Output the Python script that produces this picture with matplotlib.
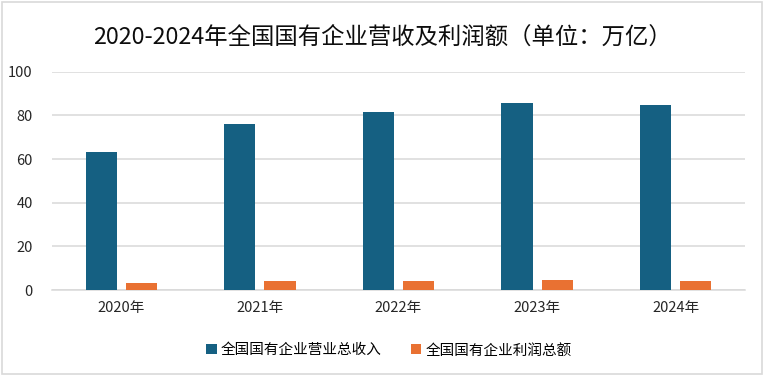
import matplotlib
matplotlib.use("Agg")
import matplotlib.pyplot as plt
import numpy as np
from matplotlib.patches import Rectangle

plt.rcParams['font.family'] = ['Noto Sans CJK SC', 'DejaVu Sans']

years = ["2020年", "2021年", "2022年", "2023年", "2024年"]
revenue = [63.3, 76.0, 81.5, 85.5, 84.7]
profit = [3.4, 4.3, 4.3, 4.6, 4.2]
series_names = ["全国国有企业营业总收入", "全国国有企业利润总额"]
title = "2020-2024年全国国有企业营收及利润额（单位：万亿）"

fig = plt.figure(figsize=(7.66, 3.76), dpi=100)
fig.patches.append(Rectangle((0.003, 0.005), 0.992, 0.99, transform=fig.transFigure,
                             fill=False, edgecolor="#d9d9d9", linewidth=1.2))
ax = fig.add_axes([0.068, 0.2287, 0.9046, 0.5803])

x = np.arange(len(years))
w = 0.225
ax.bar(x - 0.145, revenue, width=w, color="#156082", label=series_names[0], zorder=3)
ax.bar(x + 0.145, profit, width=w, color="#E97132", label=series_names[1], zorder=3)

ax.set_xlim(-0.5, len(years) - 0.5)
ax.set_ylim(0, 100)
ax.set_yticks([0, 20, 40, 60, 80, 100])
ax.set_xticks(x)
ax.set_xticklabels(years)
ax.tick_params(axis='both', length=0, labelsize=10.5, colors="#262626")
ax.tick_params(axis='y', pad=14)
ax.tick_params(axis='x', pad=8)
ax.grid(axis='y', color="#d9d9d9", linewidth=1.1, zorder=0)
for s in ["top", "right", "left"]:
    ax.spines[s].set_visible(False)
ax.spines["bottom"].set_color("#d9d9d9")
ax.spines["bottom"].set_linewidth(1.1)

fig.text(0.4995, 0.902, title, ha="center", va="center", fontsize=16.8, color="#0d0d0d")
fig.legend(loc="center", bbox_to_anchor=(0.508, 0.068), ncol=2, frameon=False,
           fontsize=10.5, handlelength=0.7, handleheight=0.7, handletextpad=0.3,
           columnspacing=2.0)

fig.savefig("out.png", dpi=100)
